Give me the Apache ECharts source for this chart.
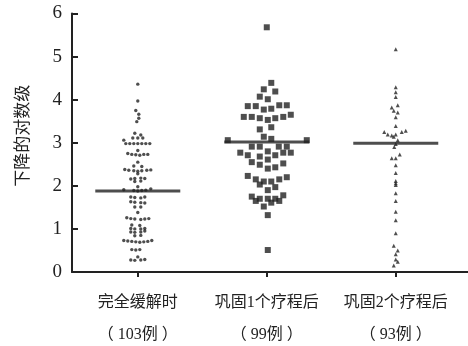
<!DOCTYPE html>
<html>
<head>
<meta charset="utf-8">
<script src="https://cdn.jsdelivr.net/npm/echarts@6/dist/echarts.min.js"></script>
<style>
  html, body { margin: 0; padding: 0; background: #fff; }
  #chart { width: 468px; height: 346px; }
</style>
</head>
<body>
<div id="chart"></div>
<script>
  // 三组下降对数级散点 + 中位数线
  const categories = ['完全缓解时', '巩固1个疗程后', '巩固2个疗程后'];
  const caseCounts = ['（ 103例 ）', '（ 99例 ）', '（ 93例 ）'];
  const yTicks = [0, 1, 2, 3, 4, 5, 6];
  const medians = [1.88, 3.02, 2.99];

  // 完全缓解时: value and horizontal jitter (px) of each dot
  const g1Values = [
    4.36, 3.97, 3.75, 3.66, 3.57, 3.49,
    3.22, 3.18,
    3.11, 3.11, 3.11, 3.06,
    2.98, 2.98, 2.98, 2.98, 2.98, 2.98, 2.98,
    2.82,
    2.75, 2.73, 2.72, 2.71, 2.73, 2.73,
    2.55,
    2.46, 2.45,
    2.38, 2.36, 2.35, 2.34, 2.35, 2.36, 2.37,
    2.28,
    2.16, 2.17, 2.18, 2.17,
    2.10, 2.11,
    1.98,
    1.91, 1.89, 1.88, 1.89, 1.90, 1.93,
    1.74, 1.73, 1.72, 1.74,
    1.63, 1.62, 1.61, 1.60,
    1.51, 1.51,
    1.38,
    1.26, 1.24, 1.23, 1.22, 1.23, 1.24,
    1.09, 1.08,
    1.01, 1.00, 1.00, 1.01,
    0.93, 0.92, 0.93, 0.95,
    0.84, 0.85,
    0.73, 0.72, 0.71, 0.70, 0.69, 0.70, 0.71, 0.73,
    0.52, 0.51, 0.52,
    0.35,
    0.28, 0.27, 0.28, 0.29
  ];
  const g1Jitter = [
    0, 0, -2, 1, 1, -1,
    -3, 3,
    -5, 0, 5, -14,
    -12, -8, -4, 0, 4, 8, 12,
    0,
    -10, -6, -2, 2, 6, 10,
    0,
    -4, 4,
    -13, -9, -4, 0, 4, 9, 13,
    0,
    -7, -3, 3, 7,
    -3, 3,
    0,
    -14, -4, 0, 4, 8, 13,
    -7, -3, 3, 7,
    -7, -3, 3, 7,
    -3, 3,
    0,
    -11, -7, -3, 3, 7, 11,
    -6, 2,
    -7, -3, 3, 7,
    -7, -3, 3, 7,
    -3, 3,
    -14, -10, -6, -2, 2, 6, 10, 14,
    -6, -2, 2,
    0,
    -7, -3, 3, 7
  ];

  // 巩固1个疗程后
  const g2Values = [
    5.68,
    4.39, 4.24, 4.19, 4.07, 4.01,
    3.85, 3.85, 3.87, 3.87,
    3.77, 3.79,
    3.60, 3.60, 3.57, 3.53, 3.57, 3.60, 3.65,
    3.31, 3.36,
    3.14, 3.09,
    3.06, 3.06,
    2.91, 2.91, 2.91, 2.91,
    2.77, 2.71, 2.68, 2.80, 2.71, 2.77, 2.77,
    2.55, 2.49, 2.61, 2.40, 2.43, 2.52,
    2.23, 2.15, 2.10, 2.10, 2.15, 2.20,
    2.03, 1.97, 1.90,
    1.75, 1.65, 1.70, 1.70, 1.61, 1.70, 1.65, 1.78,
    1.52,
    1.32,
    0.51
  ];
  const g2Jitter = [
    0,
    4.5, -3, 8.5, -7, 1,
    -19, -11, 12.5, 20,
    -3, 4.5,
    -23, -15, -7, 1, 8.5, 16.5, 24,
    -7, 4.5,
    -3, 4.5,
    -39, 40,
    -15, -7, 12, 20,
    -26.5, -19, -7, 1, 8.5, 16.5, 24,
    -15, -7, 1, 1, 8.5, 16.5,
    -19, -11, -3, 4.5, 12.5, 20,
    -7, 8.5, 1,
    -15, -11, -7, 1, 4.5, 8.5, 12.5, 16.5,
    -3,
    1,
    1
  ];

  // 巩固2个疗程后
  const g3Values = [
    5.17, 4.29, 4.17, 4.06,
    3.87, 3.82, 3.74, 3.70, 3.59, 3.39,
    3.25, 3.19, 3.17, 3.14, 3.19, 3.25, 3.28,
    3.06, 2.97, 2.90,
    2.73, 2.64, 2.64,
    2.48, 2.30, 2.11, 2.06, 2.02, 1.83, 1.65, 1.40, 1.20, 0.90,
    0.61, 0.50, 0.41, 0.29, 0.24, 0.15
  ];
  const g3Jitter = [
    0, 0, 0, 0,
    2, -4, -2, 2, 0, 0,
    -11.5, -8, -4, -2, 0, 6, 10,
    2, 0, -1.5,
    4, -4, 0,
    0, 0, 0, 0, 0, 0, 0, 0, 0, 0,
    -2, 2, 0, 0, 2, -2
  ];

  const pxPerUnit = 129;
  const toPoints = (idx, vals, jit) => vals.map((v, i) => [idx + jit[i] / pxPerUnit, v]);

  const fontFam = "'Liberation Serif', 'Noto Sans CJK SC', serif";
  const myChart = echarts.init(document.getElementById('chart'));
  const options = {
    backgroundColor: '#fff',
    animation: false,
    grid: { left: 72, right: 0, top: 13.5, bottom: 74, containLabel: false, outerBoundsMode: 'none' },
    xAxis: {
      type: 'value',
      min: -0.51,
      max: 2.56,
      splitLine: { show: false },
      axisLine: { show: true, onZero: false, lineStyle: { color: '#222', width: 2 } },
      axisTick: {
        show: true,
        customValues: [0, 1, 2],
        length: 5,
        lineStyle: { color: '#222', width: 2 }
      },
      axisLabel: {
        customValues: [0, 1, 2],
        margin: 15,
        color: '#222',
        fontFamily: fontFam,
        fontSize: 16,
        lineHeight: 32,
        formatter: (v) => {
          const i = Math.round(v);
          return categories[i] + '\n' + caseCounts[i];
        }
      }
    },
    yAxis: {
      type: 'value',
      min: 0,
      max: 6,
      interval: 1,
      name: '下降的对数级',
      nameLocation: 'middle',
      nameRotate: 90,
      nameGap: 40,
      nameTextStyle: { color: '#222', fontSize: 17, fontFamily: fontFam, padding: [0, 0, 0, 14] },
      splitLine: { show: false },
      axisLine: { show: true, onZero: false, lineStyle: { color: '#222', width: 2 } },
      axisTick: { show: true, inside: true, length: 6, lineStyle: { color: '#222', width: 2 } },
      axisLabel: {
        margin: 10,
        color: '#222',
        fontFamily: fontFam,
        fontSize: 19,
        formatter: (v) => yTicks.indexOf(v) >= 0 ? String(v) : ''
      }
    },
    series: [
      {
        type: 'scatter',
        symbol: 'circle',
        symbolSize: 3.4,
        itemStyle: { color: '#222' },
        data: toPoints(0, g1Values, g1Jitter)
      },
      {
        type: 'scatter',
        symbol: 'rect',
        symbolSize: 6,
        itemStyle: { color: '#222' },
        data: toPoints(1, g2Values, g2Jitter)
      },
      {
        type: 'scatter',
        symbol: 'triangle',
        symbolSize: 4,
        itemStyle: { color: '#222' },
        data: toPoints(2, g3Values, g3Jitter)
      },
      {
        // 中位数线
        type: 'scatter',
        symbol: 'rect',
        symbolSize: [85, 3],
        itemStyle: { color: '#222' },
        z: 3,
        data: medians.map((m, i) => [i, m])
      }
    ]
  };
  myChart.setOption(options);
</script>
</body>
</html>
